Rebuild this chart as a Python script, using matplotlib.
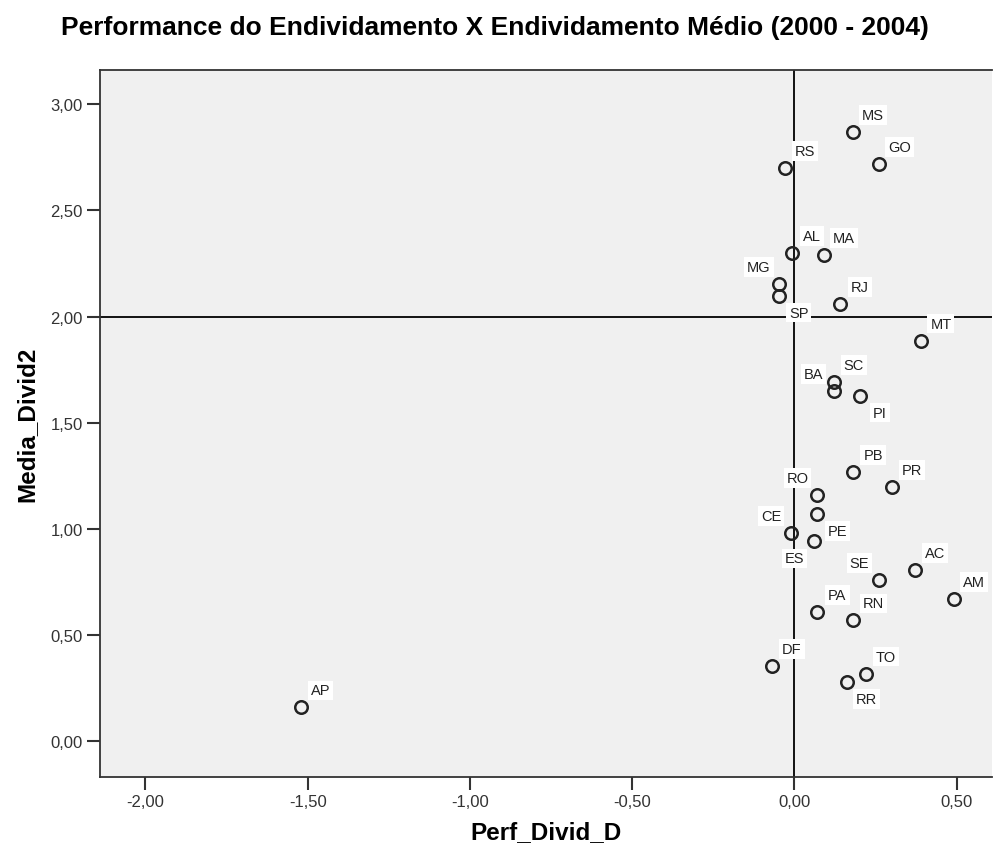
import matplotlib.pyplot as plt
from matplotlib.ticker import FuncFormatter

# values
states = ["MS", "GO", "RS", "AL", "MA", "MG", "SP", "RJ", "MT", "SC", "BA", "PI",
          "PB", "PR", "RO", "PE", "CE", "ES", "SE", "AC", "AM", "PA", "RN", "DF",
          "TO", "RR", "AP"]
perf_divid = [0.180, 0.262, -0.029, -0.008, 0.092, -0.048, -0.048, 0.141, 0.390,
              0.121, 0.121, 0.202, 0.181, 0.301, 0.071, 0.071, -0.010, 0.061,
              0.262, 0.371, 0.492, 0.071, 0.181, -0.069, 0.221, 0.161, -1.521]
media_divid = [2.868, 2.717, 2.698, 2.298, 2.289, 2.154, 2.099, 2.058, 1.887,
               1.691, 1.649, 1.628, 1.268, 1.199, 1.160, 1.070, 0.982, 0.941,
               0.758, 0.808, 0.668, 0.610, 0.569, 0.353, 0.319, 0.280, 0.159]
x_ticks = [-2.0, -1.5, -1.0, -0.5, 0.0, 0.5]
y_ticks = [0.0, 0.5, 1.0, 1.5, 2.0, 2.5, 3.0]

# where each point label sits relative to its marker
label_side = {"MG": "ul", "SP": "lr", "BA": "ul", "PI": "lr", "RO": "ul",
              "PE": "lr", "CE": "ul", "ES": "ll", "SE": "ul", "RR": "lr"}
side_offsets = {"ur": (20, 17), "ul": (-20, 17), "lr": (20, -17), "ll": (-20, -17)}

plt.rcParams['font.family'] = ['Liberation Sans', 'DejaVu Sans']

fig = plt.figure(figsize=(9.93, 8.53), dpi=100)
ax = fig.add_axes([0.101, 0.088, 0.898, 0.829])
ax.set_facecolor("#f0f0f0")

ax.axhline(2.0, color="black", lw=1.3, zorder=1)
ax.axvline(0.0, color="black", lw=1.3, zorder=1)

ax.plot(perf_divid, media_divid, linestyle="none", marker="o", markersize=9,
        markerfacecolor="none", markeredgecolor="#222222", markeredgewidth=1.8, zorder=3)

for name, px, py in zip(states, perf_divid, media_divid):
    dx, dy = side_offsets[label_side.get(name, "ur")]
    ax.annotate(name, (px, py), xytext=(dx, dy), textcoords="offset pixels",
                ha="center", va="center", fontsize=10.5, color="#222222", zorder=4,
                bbox=dict(boxstyle="square,pad=0.2", fc="white", ec="none"))

ax.set_xlim(-2.139, 0.609)
ax.set_ylim(-0.168, 3.162)
ax.set_xticks(x_ticks)
ax.set_yticks(y_ticks)
comma_fmt = FuncFormatter(lambda v, pos: f"{v:.2f}".replace(".", ","))
ax.xaxis.set_major_formatter(comma_fmt)
ax.yaxis.set_major_formatter(comma_fmt)
ax.tick_params(direction="out", length=9.5, width=1.5, color="#333333",
               labelsize=12, labelcolor="#333333", pad=3)

for side in ["left", "top", "bottom"]:
    ax.spines[side].set_linewidth(1.3)
    ax.spines[side].set_color("#333333")
ax.spines["right"].set_visible(False)

ax.set_xlabel("Perf_Divid_D", fontsize=17.5, fontweight="bold", labelpad=8)
ax.set_ylabel("Media_Divid2", fontsize=17.5, fontweight="bold", labelpad=9)
fig.text(0.498, 0.967, "Performance do Endividamento X Endividamento Médio (2000 - 2004)",
         ha="center", va="center", fontsize=19, fontweight="bold")

plt.savefig("out.png", dpi=100)
